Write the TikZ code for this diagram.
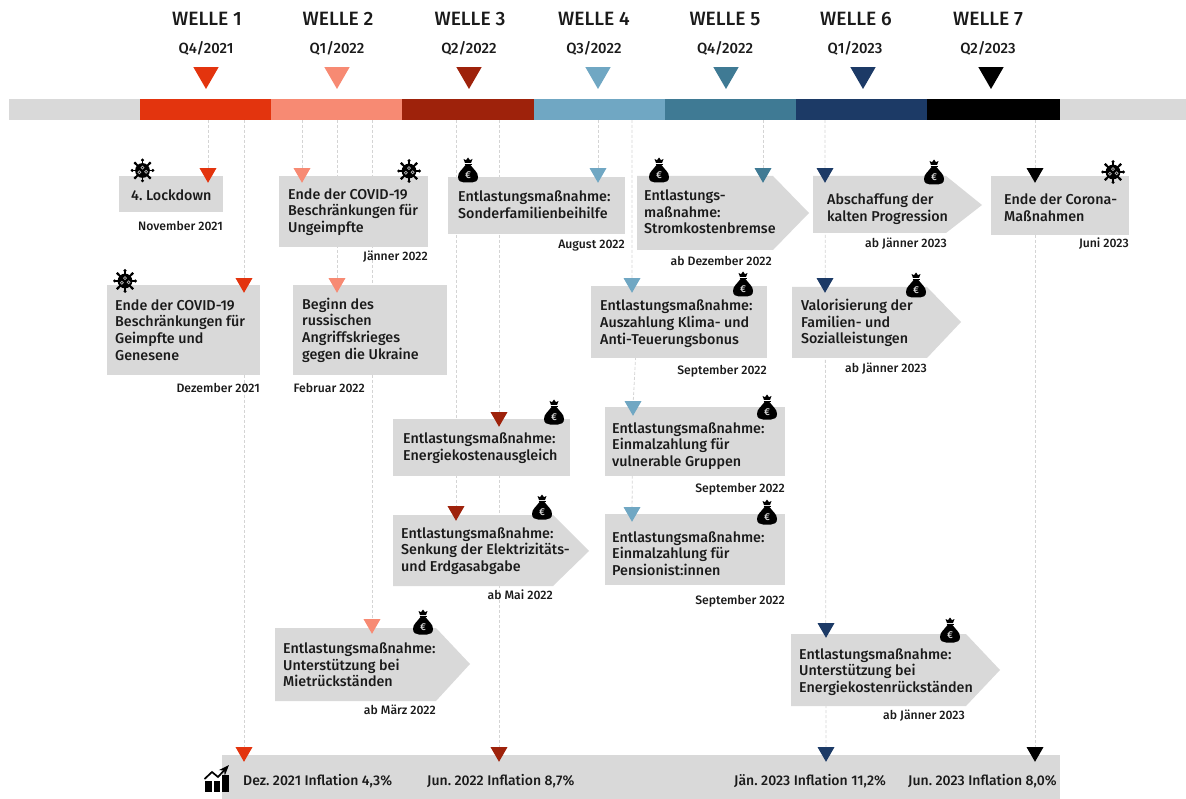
\documentclass[tikz,border=0pt]{standalone}
\usepackage{fontspec}
\setmainfont{Fira Sans}[UprightFont=* Medium]
\frenchspacing
\usetikzlibrary{arrows.meta,backgrounds,shapes.geometric}
\definecolor{wred}{HTML}{E3340E}
\definecolor{wsalmon}{HTML}{F78A73}
\definecolor{wdark}{HTML}{9E220B}
\definecolor{wlight}{HTML}{70A7C3}
\definecolor{wteal}{HTML}{3F7A94}
\definecolor{wnavy}{HTML}{1C3A66}
\definecolor{wgrey}{HTML}{D9D9D9}
\definecolor{wink}{HTML}{1A1A1A}

\begin{document}
\begin{tikzpicture}[x=1pt, y=-1pt, >=Stealth,
   welle/.style={font=\fontsize{19.3}{20}\selectfont, text=wink},
   quarter/.style={font=\fontsize{14.8}{16}\selectfont, text=wink},
   seg/.style={minimum height=21, inner sep=0, outer sep=0},
   bigmark/.style={regular polygon, regular polygon sides=3, shape border rotate=180, minimum size=29, inner sep=0, outer sep=0},
   evmark/.style={regular polygon, regular polygon sides=3, shape border rotate=180, minimum size=19.6, inner sep=0, outer sep=0},
   evbox/.style={fill=wgrey, anchor=north west, inner sep=0, outer sep=0},
   evtext/.style={anchor=west, align=left, inner sep=0, text=wink,
      font=\fontsize{14.3}{16.7}\selectfont},
   datum/.style={anchor=east, inner sep=0, text=wink, font=\fontsize{12.2}{13}\selectfont},
   infl/.style={anchor=west, inner sep=0, text=wink, font=\fontsize{14}{15}\selectfont},
   dline/.style={densely dashed, draw=black!17, line width=0.8},
   virus/.pic={
      \fill[black] (0,0) circle[radius=7.4];
      \foreach \a in {0,45,...,315} {
         \draw[black, line width=1.9] (0,0) -- (\a:10);
         \fill[black] (\a:10.3) circle[radius=1.7];
      }
      \foreach \a/\r in {150/3.6,20/3.8,270/2.8}
         \draw[white!70!black, line width=0.7] (\a:\r) circle[radius=1.5];
   },
   bag/.pic={
      \fill[black] (-2.5,-5) .. controls (-6,0) and (-10,2) .. (-10,7)
         .. controls (-10,11) and (-7,12.5) .. (-4,12.5) -- (4,12.5)
         .. controls (7,12.5) and (10,11) .. (10,7)
         .. controls (10,2) and (6,0) .. (2.5,-5) -- cycle;
      \fill[black] (-4.5,-11) -- (-2,-9.8) -- (0,-12.5) -- (2,-9.8) -- (4.5,-11)
         -- (3,-7) -- (-3,-7) -- cycle;
      \draw[black, line width=0.9] (-3.5,-5.8) -- (3.5,-5.8);
      \node (eur) at (0,5) [text=white!85!black, inner sep=0, font=\fontsize{10}{10}\selectfont] {€};
   }]
   \useasboundingbox (0,0) rectangle (1186,799);

   % time bar
   \fill[wgrey] (9,99) rectangle (1186,120);
   \foreach \i/\xh/\xq/\xm/\xs/\ws/\qt/\yr/\c in {
      1/207/206/206/205.6/131.2/4/2021/wred,
      2/338/337/337/336.8/131.2/1/2022/wsalmon,
      3/470/469/469/468/131.2/2/2022/wdark,
      4/594/594/598/599.2/131.2/3/2022/wlight,
      5/725/725/726/730.4/131.2/4/2022/wteal,
      6/856/855/863/861.6/131.2/1/2023/wnavy,
      7/988/988/991/993.6/133/2/2023/black} {
      \node (w\i) at (\xh,19) [welle] {WELLE \i};
      \node (q\i) at (\xq,48) [quarter] {Q\qt/\yr};
      \node (top\i) at (\xm,74.5) [bigmark, fill=\c] {};
      \node (seg\i) at (\xs,109.5) [seg, minimum width=\ws, fill=\c] {};
   }

   % events, upper rows
   \node (b1) at (119,176) [evbox, minimum width=104, minimum height=36] {};
   \node (t1) at (131,195) [evtext] {4. Lockdown};
   \node (d1) at (223,226) [datum] {November 2021};
   \node (b2) at (279,176) [evbox, minimum width=149, minimum height=71] {};
   \node (t2) at (288,212) [evtext] {Ende der COVID-19\\Beschränkungen für\\Ungeimpfte};
   \node (d2) at (428,257) [datum] {Jänner 2022};
   \node (b3) at (107,285) [evbox, minimum width=153, minimum height=90] {};
   \node (t3) at (115,330) [evtext] {Ende der COVID-19\\Beschränkungen für\\Geimpfte und\\Genesene};
   \node (d3) at (260,388) [datum] {Dezember 2021};
   \node (b4) at (293,285) [evbox, minimum width=154, minimum height=90] {};
   \node (t4) at (302,330) [evtext] {Beginn des\\russischen\\Angriffskrieges\\gegen die Ukraine};
   \node (d4) at (365,388) [datum] {Februar 2022};
   \node (b5) at (448,177) [evbox, minimum width=177, minimum height=57] {};
   \node (t5) at (458,204.5) [evtext] {Entlastungsmaßnahme:\\Sonderfamilienbeihilfe};
   \node (d5) at (625,246) [datum] {August 2022};

   \fill[wgrey] (637,176) -- (773,176) -- (809,213) -- (773,250) -- (637,250) -- cycle;
   \node (a1) at (644,212) [evtext] {Entlastungs-\\maßnahme:\\Stromkostenbremse};
   \node (d6) at (772,261) [datum] {ab Dezember 2022};
   \fill[wgrey] (813,176) -- (946,176) -- (982,205) -- (946,233) -- (813,233) -- cycle;
   \node (a2) at (827,209.5) [evtext] {Abschaffung der\\kalten Progression};
   \node (d7) at (947,244) [datum] {ab Jänner 2023};
   \node (b6) at (991,176) [evbox, minimum width=138, minimum height=59] {};
   \node (t6) at (1004,207.5) [evtext] {Ende der Corona-\\Maßnahmen};
   \node (d8) at (1129,244) [datum] {Juni 2023};

   % events, middle rows
   \node (b7) at (591,286) [evbox, minimum width=176, minimum height=72] {};
   \node (t7) at (600,323.5) [evtext] {Entlastungsmaßnahme:\\Auszahlung Klima- und\\Anti-Teuerungsbonus};
   \node (d9) at (767,371) [datum] {September 2022};
   \fill[wgrey] (792,287) -- (927,287) -- (961,322) -- (927,358) -- (792,358) -- cycle;
   \node (a3) at (801,323) [evtext] {Valorisierung der\\Familien- und\\Sozialleistungen};
   \node (d10) at (927,369) [datum] {ab Jänner 2023};
   \node (b8) at (393,419) [evbox, minimum width=177, minimum height=57] {};
   \node (t8) at (403,448.5) [evtext] {Entlastungsmaßnahme:\\Energiekostenausgleich};
   \node (b9) at (605,407) [evbox, minimum width=180, minimum height=69] {};
   \node (t9) at (612,446) [evtext] {Entlastungsmaßnahme:\\Einmalzahlung für\\vulnerable Gruppen};
   \node (d11) at (785,489) [datum] {September 2022};
   \fill[wgrey] (393,515) -- (553,515) -- (589,551) -- (553,586) -- (393,586) -- cycle;
   \node (a4) at (401,551) [evtext] {Entlastungsmaßnahme:\\Senkung der Elektrizitäts-\\und Erdgasabgabe};
   \node (d12) at (553,595) [datum] {ab Mai 2022};
   \node (b10) at (605,514) [evbox, minimum width=180, minimum height=71] {};
   \node (t10) at (612,553.5) [evtext] {Entlastungsmaßnahme:\\Einmalzahlung für\\Pensionist:innen};
   \node (d13) at (785,601) [datum] {September 2022};

   % events, lower rows
   \fill[wgrey] (275,628) -- (436,628) -- (470,664) -- (436,701) -- (275,701) -- cycle;
   \node (a5) at (283,665) [evtext] {Entlastungsmaßnahme:\\Unterstützung bei\\Mietrückständen};
   \node (d14) at (436,710) [datum] {ab März 2022};
   \fill[wgrey] (791,634) -- (966,634) -- (1000,670) -- (966,706) -- (791,706) -- cycle;
   \node (a6) at (799,672) [evtext] {Entlastungsmaßnahme:\\Unterstützung bei\\Energiekostenrückständen};
   \node (d15) at (965,716) [datum] {ab Jänner 2023};

   % inflation
   \fill[wgrey] (222,755) rectangle (1060,799);
   \node (i1) at (243,781) [infl] {Dez. 2021 Inflation 4,3\%};
   \node (i2) at (427,781) [infl] {Jun. 2022 Inflation 8,7\%};
   \node (i3) at (734,781) [infl] {Jän. 2023 Inflation 11,2\%};
   \node (i4) at (908,781) [infl] {Jun. 2023 Inflation 8,0\%};

   % markers
   \node (m1) at (208,173) [evmark, fill=wred] {};
   \node (m2) at (244,283) [evmark, fill=wred] {};
   \node (m3) at (244,752) [evmark, fill=wred] {};
   \node (m4) at (302,173) [evmark, fill=wsalmon] {};
   \node (m5) at (337,283) [evmark, fill=wsalmon] {};
   \node (m6) at (372,624) [evmark, fill=wsalmon] {};
   \node (m7) at (456,511) [evmark, fill=wdark] {};
   \node (m8) at (499,417) [evmark, fill=wdark] {};
   \node (m9) at (499,752) [evmark, fill=wdark] {};
   \node (m10) at (598,173) [evmark, fill=wlight] {};
   \node (m11) at (632,283) [evmark, fill=wlight] {};
   \node (m12) at (633,406) [evmark, fill=wlight] {};
   \node (m13) at (632,512) [evmark, fill=wlight] {};
   \node (m14) at (763,173) [evmark, fill=wteal] {};
   \node (m15) at (825,173) [evmark, fill=wnavy] {};
   \node (m16) at (825,283) [evmark, fill=wnavy] {};
   \node (m17) at (826,628) [evmark, fill=wnavy] {};
   \node (m18) at (826,752) [evmark, fill=wnavy] {};
   \node (m19) at (1035,173) [evmark, fill=black] {};
   \node (m20) at (1035,752) [evmark, fill=black] {};
   \coordinate (kink) at (635.5,358);

   % dashed guides behind everything
   \begin{scope}[on background layer]
      \draw[dline] (seg1.south -| m1) -- (m1);
      \draw[dline] (seg1.south -| m3) -- (m3);
      \draw[dline] (seg2.south -| m4) -- (m4);
      \draw[dline] (seg2.south -| m5) -- (m5);
      \draw[dline] (seg2.south -| m6) -- (m6);
      \draw[dline] (seg3.south -| m7) -- (m7);
      \draw[dline] (seg3.south -| m9) -- (m9);
      \draw[dline] (seg4.south -| m10) -- (m10);
      \draw[dline] (seg4.south -| m11) -- (m11) -- (kink) -- (m12) -- (m13);
      \draw[dline] (seg5.south -| m14) -- (m14);
      \draw[dline] (seg6.south -| m15) -- (m18);
      \draw[dline] (seg7.south -| m19) -- (m20);
   \end{scope}

   % icons
   \pic at (142.5,170.5) {virus};
   \pic at (409,171) {virus};
   \pic at (125,281) {virus};
   \pic at (1113,172) {virus};
   \pic at (468,170) {bag};
   \pic at (659,170) {bag};
   \pic at (934,172) {bag};
   \pic at (743,284) {bag};
   \pic at (916,285) {bag};
   \pic at (554,412) {bag};
   \pic at (767,407) {bag};
   \pic at (542,507) {bag};
   \pic at (767,512) {bag};
   \pic at (423,622) {bag};
   \pic at (950,630) {bag};

   % chart icon
   \fill[black] (205,781) rectangle (212,791.5);
   \fill[black] (214,781) rectangle (220,791.5);
   \fill[black] (222,775) rectangle (229,791.5);
   \draw[black, line width=1.7, ->] (204.5,779) -- (212,772) -- (218,777) -- (229,765);
\end{tikzpicture}
\end{document}
